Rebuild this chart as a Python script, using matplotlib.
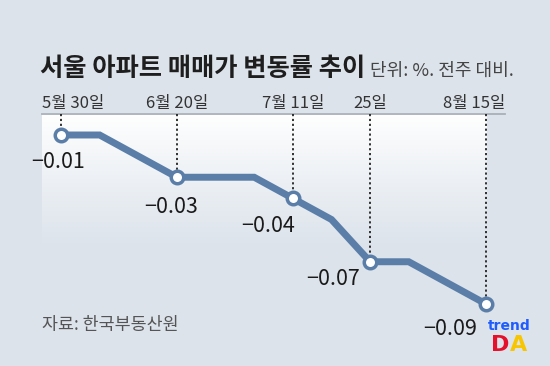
import matplotlib
matplotlib.use("Agg")
import matplotlib.pyplot as plt
import numpy as np

plt.rcParams['font.family'] = ['Noto Sans CJK KR', 'DejaVu Sans']

# weekly change of Seoul apartment prices (%), 5/30 ~ 8/15
weeks = ['5/30', '6/6', '6/13', '6/20', '6/27', '7/4', '7/11', '7/18', '7/25', '8/1', '8/8', '8/15']
values = [-0.01, -0.01, -0.02, -0.03, -0.03, -0.03, -0.04, -0.05, -0.07, -0.07, -0.08, -0.09]
marked = [0, 3, 6, 8, 11]
date_labels = ['5월 30일', '6월 20일', '7월 11일', '25일', '8월 15일']
value_labels = ['−0.01', '−0.03', '−0.04', '−0.07', '−0.09']

bg = '#dce3eb'
blue = '#5a7ea8'

fig = plt.figure(figsize=(5.5, 3.66), dpi=100)
fig.patch.set_facecolor(bg)
ax = fig.add_axes([0, 0, 1, 1])
ax.set_facecolor(bg)
ax.axis('off')

x = np.arange(len(weeks))
ax.set_xlim(-1.579, 12.656)
ax.set_ylim(-0.11935, 0.0539)

# white panel fading down into the background
grad = np.zeros((100, 2, 4))
grad[..., :3] = 1.0
grad[..., 3] = np.linspace(1, 0, 100)[:, None] ** 1.1
ax.imshow(grad, extent=(-0.5, 11.0, -0.065, 0.0), aspect='auto', zorder=0)

# baseline at the top
ax.plot([-0.5, 11.5], [0, 0], color='#a9b0b8', lw=1.3, zorder=1)

# dotted guides
for i in marked:
    ax.plot([x[i], x[i]], [0, values[i]], color='#222222', lw=1.3,
            linestyle=(0, (1.2, 1.5)), zorder=1)

ax.plot(x, values, color=blue, lw=5, solid_joinstyle='miter', zorder=2)
ax.plot(x[marked], [values[i] for i in marked], 'o', ms=9, mfc='white',
        mec=blue, mew=2.5, zorder=3)

# date labels above the baseline
xt = ax.get_xaxis_transform()
for k, i in enumerate(marked):
    if k == 0:
        xpos, ha = -0.5, 'left'
    elif k == len(marked) - 1:
        xpos, ha = 11.5, 'right'
    else:
        xpos, ha = x[i], 'center'
    ax.text(xpos, 1 - 108 / 366, date_labels[k], transform=xt, ha=ha,
            va='baseline', fontsize=12, color='#333333')

# value labels
offsets = [(24, -27), (21, -30), (2, -28), (-10, -17), (-9, -25)]
for k, i in enumerate(marked):
    ax.annotate(value_labels[k], (x[i], values[i]), xytext=offsets[k],
                textcoords='offset pixels', ha='right', va='center',
                fontsize=15.5, color='#1a1a1a', zorder=4)

fig.text(40 / 550, 1 - 76 / 366, '서울 아파트 매매가 변동률 추이', fontsize=18.2,
         fontweight='bold', color='#1e1e1e', ha='left', va='baseline')
fig.text(370 / 550, 1 - 76 / 366, '단위: %. 전주 대비.', fontsize=13,
         color='#444444', ha='left', va='baseline')
fig.text(42 / 550, 1 - 325 / 366, '자료: 한국부동산원', fontsize=12.5,
         color='#555555', ha='left', va='center')

# logo
fig.text(509 / 550, 1 - 326 / 366, 'trend', fontsize=10, fontweight='bold',
         color='#1f5cff', ha='center', va='center', family=['DejaVu Sans'])
fig.text(500 / 550, 1 - 345 / 366, 'D', fontsize=16, fontweight='bold',
         color='#e5102a', ha='center', va='center', family=['DejaVu Sans'])
fig.text(519 / 550, 1 - 345 / 366, 'A', fontsize=16, fontweight='bold',
         color='#f7c600', ha='center', va='center', family=['DejaVu Sans'])

fig.savefig('out.png', dpi=100, facecolor=bg)
